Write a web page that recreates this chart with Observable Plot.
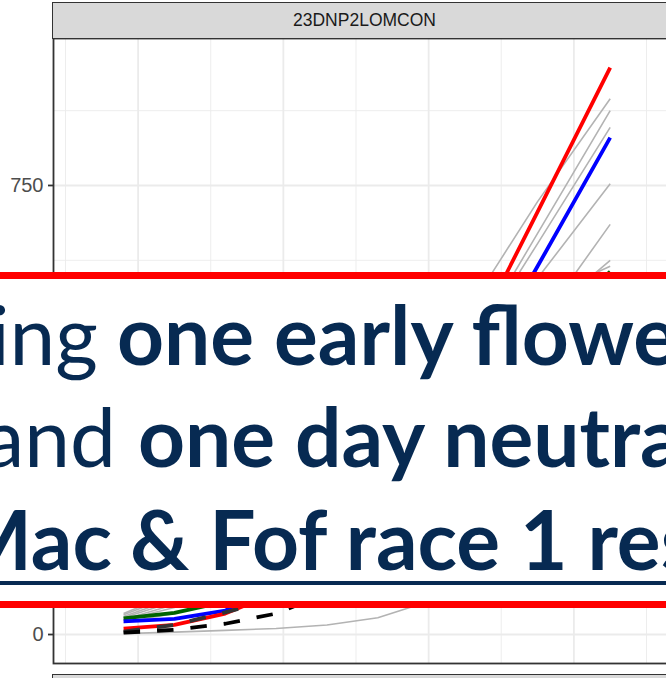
<!DOCTYPE html>
<html>
<head>
<meta charset="utf-8">
<script src="https://cdn.jsdelivr.net/npm/d3@7"></script>
<script src="https://cdn.jsdelivr.net/npm/@observablehq/plot@0.6"></script>
<style>
  html, body { margin: 0; padding: 0; background: #ffffff; }
  body { width: 666px; height: 678px; overflow: hidden; position: relative; }
  #chart { position: absolute; left: 0; top: 0; width: 700px; }
  #chart svg { max-width: none !important; }
  .strip { position: absolute; background: #d9d9d9; border: 1.8px solid #333333; box-sizing: border-box;
           font-family: "Liberation Sans", Arial, sans-serif; color: #1a1a1a; text-align: center; }
  #overlay { position: absolute; left: 0; top: 0; }
</style>
</head>
<body>
<div id="chart"></div>
<div class="strip" id="stripTop" style="left:52px; top:2px; width:625px; height:37px; font-size:17.5px; line-height:34px;"></div>
<div class="strip" style="left:52px; top:674px; width:625px; height:30px;"></div>
<svg id="overlay" width="666" height="678"></svg>
<script>
// ---- data ----
const panelLabel = "23DNP2LOMCON";
const days = [18, 25, 32, 39, 46, 53, 60, 67, 75, 85];

const gray1 = [30, 60, 110, 180, 260, 350, 450, 571, 723, 895];
const gray2 = [28, 55, 100, 165, 240, 320, 410, 506, 670, 875];
const gray3 = [25, 50, 90, 150, 220, 300, 400, 499, 653, 847];
const gray4 = [33, 65, 115, 180, 250, 320, 400, 469, 595, 753];
const gray5 = [24, 45, 80, 130, 190, 250, 320, 380, 515, 685];
const gray6 = [20, 35, 60, 100, 150, 220, 300, 400, 522, 625];
const gray7 = [35, 70, 120, 180, 250, 330, 420, 500, 560, 615];
const gray8 = [1.5, 4, 7, 10, 16, 28, 55, 200, 380, 560];
const greenLine = [27, 36, 55, 90, 140, 200, 280, 400, 500, 606];
const blueLine = [22, 26, 40, 75, 130, 200, 300, 445, 615, 830];
const redLine = [10, 16, 35, 70, 120, 190, 300, 514, 706, 947];
const dashedA = [5, 16, 37, 60, 100, 160, 230, 330, 430, 560];
const dashedB = [3, 8, 18, 35, 70, 120, 190, 280, 380, 500];

const yLabelled = [0, 750];
const yMajor = [0, 250, 500, 750];
const yMinor = [125, 375, 625, 875];
const xMajor = [20, 40, 60, 80];
const xMinor = [10, 30, 50, 70, 90];

const bannerLine1 = ["ing", "one early flowe"];
const bannerLine2 = ["and", "one day neutra"];
const bannerLine3 = ["Mac", "& Fof race 1 res"];

// ---- build tidy tables ----
const toRows = (name, arr) => days.map((d, i) => ({day: d, value: arr[i], series: name}));
const grayRows = [gray1, gray2, gray3, gray4, gray5, gray6, gray7, gray8]
  .flatMap((arr, k) => toRows("g" + (k + 1), arr));

const lineOpts = {x: "day", y: "value", strokeLinecap: "butt", strokeLinejoin: "round"};

const chart = Plot.plot({
  width: 700,
  height: 678,
  marginLeft: 53,
  marginRight: 24,
  marginTop: 38,
  marginBottom: 15,
  style: {fontFamily: "Liberation Sans, Arial, sans-serif", background: "transparent", overflow: "visible", maxWidth: "none"},
  x: {domain: [8.348, 94.13], axis: null},
  y: {domain: [-48.4, 995.5], axis: null},
  marks: [
    Plot.gridX(xMinor, {stroke: "#ebebeb", strokeOpacity: 1, strokeWidth: 0.9}),
    Plot.gridY(yMinor, {stroke: "#ebebeb", strokeOpacity: 1, strokeWidth: 0.9}),
    Plot.gridX(xMajor, {stroke: "#ebebeb", strokeOpacity: 1, strokeWidth: 1.8}),
    Plot.gridY(yMajor, {stroke: "#ebebeb", strokeOpacity: 1, strokeWidth: 1.8}),
    Plot.line(grayRows, {...lineOpts, z: "series", stroke: "#b3b3b3", strokeWidth: 1.6}),
    Plot.line(toRows("green", greenLine), {...lineOpts, stroke: "#006400", strokeWidth: 3.8}),
    Plot.line(toRows("blue", blueLine), {...lineOpts, stroke: "#0000ff", strokeWidth: 3.8}),
    Plot.line(toRows("red", redLine), {...lineOpts, stroke: "#ff0000", strokeWidth: 3.8}),
    Plot.line(toRows("dashA", dashedA), {...lineOpts, stroke: "#333333", strokeWidth: 3.8, strokeDasharray: "16.5,17"}),
    Plot.line(toRows("dashB", dashedB), {...lineOpts, stroke: "#000000", strokeWidth: 3.8, strokeDasharray: "16.5,17"}),
    Plot.frame({stroke: "#333333", strokeWidth: 1.8}),
    Plot.axisY(yLabelled, {label: null, tickSize: 5, tickPadding: 5, fontSize: 20, fill: "#4d4d4d", stroke: "#333333", strokeWidth: 1.8})
  ]
});
chart.style.maxWidth = "none";
document.getElementById("chart").appendChild(chart);
document.getElementById("stripTop").textContent = panelLabel;

// ---- banner overlay ----
const navy = "#072a52";
const ov = d3.select("#overlay");
ov.append("rect").attr("x", -5).attr("y", 272).attr("width", 680).attr("height", 336).attr("fill", "#ffffff");
ov.append("rect").attr("x", -5).attr("y", 272).attr("width", 680).attr("height", 7).attr("fill", "#ff0000");
ov.append("rect").attr("x", -5).attr("y", 601).attr("width", 680).attr("height", 7).attr("fill", "#ff0000");
ov.append("rect").attr("x", -5).attr("y", 581).attr("width", 680).attr("height", 4).attr("fill", navy);
const fs = 82;
function bannerText(x, y, str, weight, anchor) {
  ov.append("text").attr("x", x).attr("y", y).attr("text-anchor", anchor)
    .attr("font-family", "Lato, sans-serif").attr("font-size", fs).attr("font-weight", weight)
    .attr("fill", navy).text(str);
}
bannerText(98, 365, bannerLine1[0], 400, "end");
bannerText(117, 365, bannerLine1[1], 700, "start");
bannerText(116, 467, bannerLine2[0], 400, "end");
bannerText(138, 467, bannerLine2[1], 700, "start");
bannerText(112, 570, bannerLine3[0], 700, "end");
bannerText(130, 570, bannerLine3[1], 700, "start");
</script>
</body>
</html>
